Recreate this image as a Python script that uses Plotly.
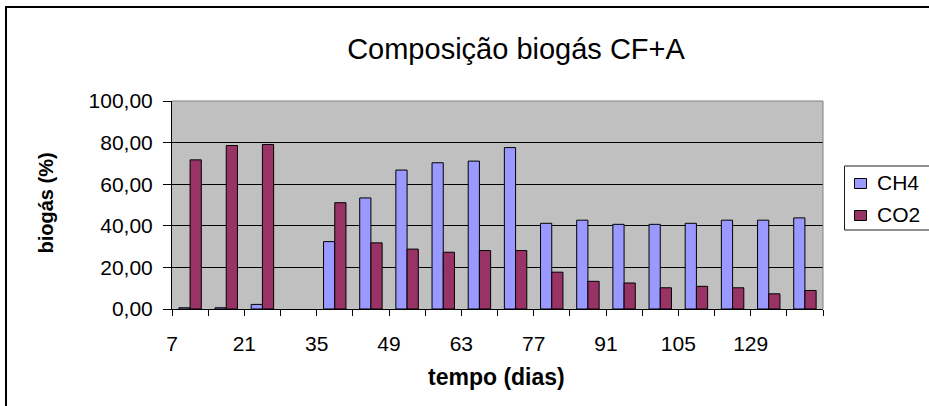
import plotly.graph_objects as go

# ---- data ----
days = ["7", "14", "21", "28", "35", "42", "49", "56", "63", "70",
        "77", "84", "91", "98", "105", "115", "129", "136"]
ch4 = [0.6, 0.6, 2.2, None, 32.4, 53.4, 66.8, 70.3, 71.1, 77.6,
       41.2, 42.7, 40.7, 40.7, 41.2, 42.7, 42.7, 43.8]
co2 = [71.7, 78.6, 79.1, None, 51.1, 31.8, 28.8, 27.3, 28.1, 28.1,
       17.7, 13.3, 12.5, 10.2, 10.9, 10.2, 7.3, 8.9]
series_names = ["CH4", "CO2"]
series_colors = ["#9999FF", "#993366"]
title_text = "Composição biogás CF+A"
x_title = "tempo (dias)"
y_title = "biogás (%)"

W, H = 929, 406
L, R, T, B = 172, 106, 101, 97
pw, ph = W - L - R, H - T - B

def px_x(p):
    return (p - L) / pw

def px_y(p):
    return (H - B - p) / ph

FONT = "Liberation Sans, Arial, sans-serif"

xpos = list(range(len(days)))
tickvals = [i - 0.5 for i in range(len(days) + 1)]
ticktext = [days[i] if (i % 2 == 0 and i < len(days)) else "" for i in range(len(days) + 1)]

fig = go.Figure()
for name, vals, col in zip(series_names, [ch4, co2], series_colors):
    fig.add_trace(go.Bar(x=xpos, y=vals, name=name,
                         marker=dict(color=col, line=dict(color="black", width=1))))

fig.update_layout(
    width=W, height=H,
    margin=dict(l=L, r=R, t=T, b=B, pad=0),
    paper_bgcolor="white",
    plot_bgcolor="#C0C0C0",
    separators=",.",
    barmode="group",
    bargap=0.38,
    bargroupgap=0,
    font=dict(family=FONT, color="black", size=20),
    title=dict(text=title_text, x=516 / W, xanchor="center",
               y=1 - 49 / H, yanchor="middle",
               font=dict(family=FONT, size=29, color="black")),
    showlegend=False,
    xaxis=dict(range=[-0.5, len(days) - 0.5], tickmode="array",
               tickvals=tickvals, ticktext=ticktext,
               ticks="outside", ticklen=6, tickcolor="black", tickwidth=1,
               showline=True, linecolor="black", linewidth=1,
               showgrid=False, zeroline=False,
               ticklabelstandoff=10,
               tickfont=dict(family=FONT, size=21, color="black")),
    yaxis=dict(range=[0, 100], dtick=20, tick0=0, tickformat=".2f",
               ticks="outside", ticklen=8, tickcolor="black", tickwidth=1,
               showline=True, linecolor="black", linewidth=1,
               showgrid=True, gridcolor="black", gridwidth=1,
               zeroline=False, ticklabelstandoff=6,
               tickfont=dict(family=FONT, size=21, color="black")),
)

# gray top/right border of plot area
fig.add_shape(type="line", xref="paper", yref="paper", x0=0, x1=1, y0=1, y1=1,
              line=dict(color="#808080", width=1), layer="above")
fig.add_shape(type="line", xref="paper", yref="paper", x0=1, x1=1, y0=0, y1=1,
              line=dict(color="#808080", width=1), layer="above")

# outer chart border: only left and top edges are inside the picture
fig.add_shape(type="line", xref="paper", yref="paper",
              x0=px_x(6), x1=px_x(6), y0=px_y(6), y1=px_y(H + 5),
              line=dict(color="black", width=2), layer="above")
fig.add_shape(type="line", xref="paper", yref="paper",
              x0=px_x(5), x1=px_x(W + 5), y0=px_y(7), y1=px_y(7),
              line=dict(color="black", width=2), layer="above")

# legend box: open on the right, like the reference (cut by the picture edge)
lx0, lx1, ly0, ly1 = 844.5, W + 5, 166, 230
fig.add_shape(type="rect", xref="paper", yref="paper",
              x0=px_x(lx0), x1=px_x(lx1), y0=px_y(ly0), y1=px_y(ly1),
              line=dict(width=0), fillcolor="white", layer="above")
for (xa, ya, xb, yb) in [(lx0, ly0, lx1, ly0), (lx0, ly1, lx1, ly1), (lx0, ly0, lx0, ly1)]:
    fig.add_shape(type="line", xref="paper", yref="paper",
                  x0=px_x(xa), x1=px_x(xb), y0=px_y(ya), y1=px_y(yb),
                  line=dict(color="#202020", width=1), layer="above")

row_y = [183.5, 215.5]
for name, col, yy in zip(series_names, series_colors, row_y):
    fig.add_shape(type="rect", xref="paper", yref="paper",
                  x0=px_x(854.5), x1=px_x(866.5), y0=px_y(yy - 5), y1=px_y(yy + 5),
                  line=dict(color="black", width=1), fillcolor=col, layer="above")
    fig.add_annotation(text=name, xref="paper", yref="paper",
                       x=px_x(875), y=px_y(yy - 1), showarrow=False,
                       xanchor="left", yanchor="middle",
                       font=dict(family=FONT, size=21, color="black"))

# axis titles
fig.add_annotation(text="<b>" + y_title + "</b>", xref="paper", yref="paper",
                   x=px_x(45.5), y=px_y(203), textangle=-90, showarrow=False,
                   xanchor="center", yanchor="middle",
                   font=dict(family=FONT, size=20, color="black"))
fig.add_annotation(text="<b>" + x_title + "</b>", xref="paper", yref="paper",
                   x=px_x(496), y=px_y(377), showarrow=False,
                   xanchor="center", yanchor="middle",
                   font=dict(family=FONT, size=23, color="black"))

fig.write_html("out.html")
